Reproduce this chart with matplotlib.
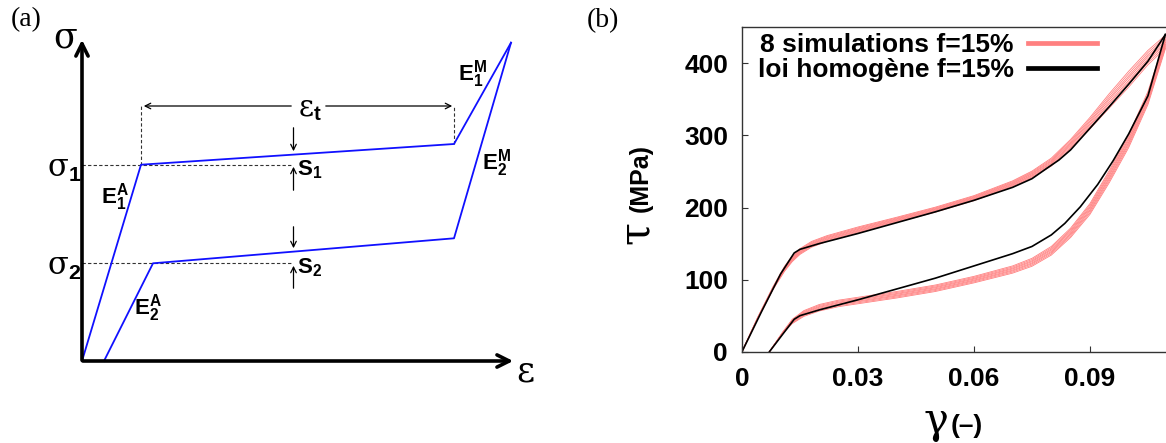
import numpy as np
import matplotlib.pyplot as plt
from matplotlib.lines import Line2D

plt.rcParams['font.family'] = ['Liberation Sans', 'DejaVu Sans']
plt.rcParams['mathtext.fontset'] = 'custom'
plt.rcParams['mathtext.rm'] = 'DejaVu Serif'
plt.rcParams['mathtext.bf'] = 'Liberation Sans:bold'
plt.rcParams['mathtext.it'] = 'DejaVu Serif:italic'

# ---- panel (a): schematic, vertices in figure pixels ----
up_path_x = [82, 141, 454, 511]
up_path_y = [361, 164.7, 144, 42.7]
low_path_x = [104, 153, 454, 511]
low_path_y = [361, 263.3, 238.3, 42.7]

# ---- panel (b): shear curves, gamma (-) vs tau (MPa) ----
hom_load_x = [0, 0.005, 0.01, 0.0135, 0.015, 0.02, 0.03, 0.04, 0.05, 0.06, 0.07,
              0.075, 0.079, 0.082, 0.085, 0.09, 0.095, 0.1, 0.105, 0.1095]
hom_load_y = [0, 55, 108, 137, 142, 150, 164, 179, 194, 210, 228,
              240, 255, 266, 280, 310, 340, 371, 403, 440]
hom_unload_x = [0.0071, 0.0105, 0.0135, 0.015, 0.02, 0.025, 0.03, 0.04, 0.05, 0.06,
                0.07, 0.075, 0.08, 0.0835, 0.0875, 0.092, 0.096, 0.1, 0.105, 0.1095]
hom_unload_y = [0, 24, 45, 50, 58, 65, 72, 87, 102, 119,
                136, 146, 162, 178, 201, 232, 265, 302, 355, 440]

sim_load_x = [0, 0.004, 0.008, 0.011, 0.013, 0.015, 0.018, 0.022, 0.03, 0.04, 0.05,
              0.06, 0.07, 0.075, 0.08, 0.085, 0.09, 0.095, 0.1, 0.105, 0.1095]
sim_load_y = [0, 46, 88, 115, 129, 139, 149, 157, 169, 183, 197,
              213, 233, 246, 263, 288, 317, 348, 378, 408, 430]
sim_load_spread = [0, 1, 2, 3.5, 4, 4, 4, 4, 4, 3.5, 3.5,
                   3.5, 4, 4.5, 5.5, 6.5, 8, 10, 11, 10, 9]
sim_unload_x = [0.0071, 0.0105, 0.013, 0.016, 0.02, 0.025, 0.03, 0.04, 0.05, 0.06,
                0.07, 0.075, 0.08, 0.085, 0.09, 0.095, 0.1, 0.105, 0.1095]
sim_unload_y = [0, 26, 42, 53, 61, 67, 71, 79, 88, 100,
                114, 124, 140, 165, 198, 243, 292, 352, 428]
sim_unload_spread = [0, 1, 3, 4, 4.5, 4.5, 4.5, 4.5, 4.5, 4.5,
                     5, 5.5, 6, 6.5, 7.5, 8.5, 9, 9, 8]
sim_shift = [-1.0, -0.7, -0.4, -0.15, 0.15, 0.4, 0.7, 1.0]

xticks = [0, 0.03, 0.06, 0.09]
xtick_labels = ['0', '0.03', '0.06', '0.09']
yticks = [0, 100, 200, 300, 400]

pink = '#ff8080'
blue = '#1010ff'

fig = plt.figure(figsize=(11.66, 4.43), dpi=100)
ax0 = fig.add_axes([0, 0, 1, 1])
ax0.set_xlim(0, 1166)
ax0.set_ylim(443, 0)
ax0.axis('off')

# axes arrows
ax0.annotate('', xy=(516, 361), xytext=(80, 361),
             arrowprops=dict(arrowstyle='->', lw=2.6, color='k', mutation_scale=22))
ax0.annotate('', xy=(82, 37), xytext=(82, 363),
             arrowprops=dict(arrowstyle='->', lw=2.6, color='k', mutation_scale=22))

# dashed guides
dash = dict(color='#333333', lw=0.8, ls=(0, (3, 2)))
ax0.plot([82, 293], [up_path_y[1], up_path_y[1]], **dash)
ax0.plot([82, 293], [low_path_y[1], low_path_y[1]], **dash)
ax0.plot([up_path_x[1], up_path_x[1]], [up_path_y[1], 106], **dash)
ax0.plot([up_path_x[2], up_path_x[2]], [up_path_y[2], 106], **dash)

ax0.plot(up_path_x, up_path_y, color=blue, lw=1.3)
ax0.plot(low_path_x, low_path_y, color=blue, lw=1.3)

thin = dict(arrowstyle='->', lw=0.9, color='k', mutation_scale=10)
ax0.annotate('', xy=(141, 106), xytext=(294, 106), arrowprops=thin)
ax0.annotate('', xy=(455, 106), xytext=(323, 106), arrowprops=thin)
ax0.annotate('', xy=(293.5, 154), xytext=(293.5, 125), arrowprops=thin)
ax0.annotate('', xy=(293.5, 164), xytext=(293.5, 193), arrowprops=thin)
ax0.annotate('', xy=(293.5, 251), xytext=(293.5, 224), arrowprops=thin)
ax0.annotate('', xy=(293.5, 263), xytext=(293.5, 291), arrowprops=thin)

ax0.text(65, 38, r'$\mathrm{\sigma}$', fontsize=25, ha='center', va='center')
ax0.text(525, 372, r'$\mathrm{\varepsilon}$', fontsize=25, ha='center', va='center')
ax0.text(310, 109, r'$\mathrm{\varepsilon}_\mathbf{t}$', fontsize=21, ha='center', va='center')
ax0.text(64, 169, r'$\mathrm{\sigma}_\mathbf{1}$', fontsize=22, ha='center', va='center')
ax0.text(64, 267, r'$\mathrm{\sigma}_\mathbf{2}$', fontsize=22, ha='center', va='center')
ax0.text(115, 197, r'$\mathbf{E}_\mathbf{1}^\mathbf{A}$', fontsize=16, ha='center', va='center')
ax0.text(148, 308, r'$\mathbf{E}_\mathbf{2}^\mathbf{A}$', fontsize=16, ha='center', va='center')
ax0.text(472, 74, r'$\mathbf{E}_\mathbf{1}^\mathbf{M}$', fontsize=16, ha='center', va='center')
ax0.text(496, 163, r'$\mathbf{E}_\mathbf{2}^\mathbf{M}$', fontsize=16, ha='center', va='center')
ax0.text(297, 170, r'$\mathbf{S}_\mathbf{1}$', fontsize=16, ha='left', va='center')
ax0.text(297, 268, r'$\mathbf{S}_\mathbf{2}$', fontsize=16, ha='left', va='center')

ax0.text(26, 20, '(a)', fontsize=20, family='Liberation Serif', ha='center', va='center')
ax0.text(603, 21, '(b)', fontsize=20, family='Liberation Serif', ha='center', va='center')

# ---- panel (b) ----
ax = fig.add_axes([742 / 1166, (443 - 351.7) / 443, 425.3 / 1166, 324.4 / 443])
for s in sim_shift:
    ax.plot(sim_load_x, np.array(sim_load_y) + s * np.array(sim_load_spread),
            color=pink, lw=0.6)
    ax.plot(sim_unload_x, np.array(sim_unload_y) + s * np.array(sim_unload_spread),
            color=pink, lw=0.6)
ax.plot(hom_load_x, hom_load_y, color='k', lw=1.2)
ax.plot(hom_unload_x, hom_unload_y, color='k', lw=1.2)

ax.set_xlim(0, 0.11)
ax.set_ylim(0, 450)
ax.set_xticks(xticks)
ax.set_xticklabels(xtick_labels)
ax.set_yticks(yticks)
ax.tick_params(direction='in', length=4, width=0.8, color='#333333',
               labelsize=19, top=False, right=False)
ax.tick_params(axis='x', pad=11)
ax.tick_params(axis='y', pad=10)
for lab in ax.get_xticklabels() + ax.get_yticklabels():
    lab.set_fontweight('bold')
for sp in ax.spines.values():
    sp.set_color('#333333')
    sp.set_linewidth(1.0)
ax.spines['right'].set_visible(False)

handles = [Line2D([], [], color=pink, lw=3.4), Line2D([], [], color='k', lw=3.4)]
ax.legend(handles, ['8 simulations f=15%', 'loi homogène f=15%'],
          loc='upper right', bbox_to_anchor=(1097, 33), bbox_transform=ax0.transData,
          frameon=False, markerfirst=False, borderpad=0, borderaxespad=0,
          handlelength=2.6, handletextpad=0.55, labelspacing=0.05,
          prop=dict(weight='bold', size=19))

fig.text(639 / 1166, 1 - 234 / 443, r'$\mathrm{\tau}$', fontsize=30, rotation=90,
         ha='center', va='center')
fig.text(641 / 1166, 1 - 178 / 443, '(MPa)', fontsize=18, fontweight='bold',
         rotation=90, ha='center', va='center')
fig.text(935 / 1166, 1 - 424 / 443, r'$\mathrm{\gamma}$', fontsize=30,
         ha='center', va='center')
fig.text(967 / 1166, 1 - 426 / 443, '(–)', fontsize=19, fontweight='bold',
         ha='center', va='center')

fig.savefig('out.png', dpi=100)
